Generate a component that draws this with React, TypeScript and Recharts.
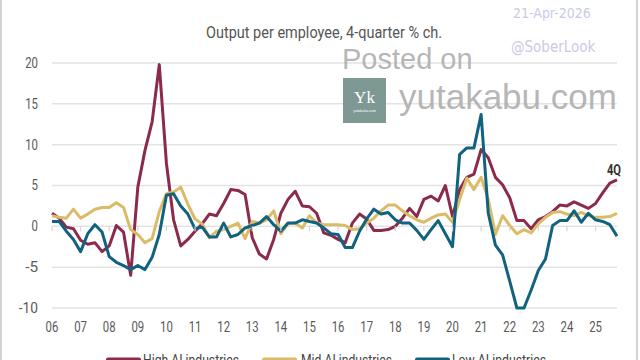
import React from 'react';
import { LineChart, Line, XAxis, YAxis, CartesianGrid, ReferenceDot, LabelList } from 'recharts';

// year labels on the x axis, one tick per Q1
const years = ['06', '07', '08', '09', '10', '11', '12', '13', '14', '15', '16', '17', '18', '19', '20', '21', '22', '23', '24', '25'];
const quarters = years.flatMap((y) => ['Q1', 'Q2', 'Q3', 'Q4'].map((q) => y + q));

const yTicks = [-10, -5, 0, 5, 10, 15, 20];

// 4-quarter % change, 2006Q1 .. 2025Q4
const high = [
  1.6, 1.0, -0.1, -0.3, -1.7, -2.2, -2.0, -3.1,
  -2.4, 0.1, -0.7, -6.0, 4.8, 9.3, 12.8, 19.8,
  7.7, 0.8, -2.4, -1.6, -0.6, 0.3, 1.5, 1.3,
  2.8, 4.5, 4.4, 3.9, -1.4, -3.4, -4.0, -1.6,
  1.6, 3.3, 4.3, 2.5, 2.4, 1.6, -0.8, -1.1,
  -1.6, -2.0, 0.4, 1.5, 0.9, -0.5, -0.5, -0.4,
  0.0, 1.0, 2.2, 1.2, 3.3, 3.7, 3.1, 5.0,
  1.2, 4.5, 6.0, 6.4, 9.4, 8.4, 6.0, 5.1,
  3.5, 0.7, 0.7, -0.3, 0.8, 1.2, 1.8, 2.6,
  2.5, 3.0, 2.6, 2.2, 2.8, 4.1, 5.3, 5.7,
];

const mid = [
  1.3, 1.1, 1.0, 2.1, 1.0, 1.5, 2.1, 2.3,
  2.3, 2.9, 2.3, -0.4, -1.0, -2.0, -1.5, 1.8,
  4.0, 4.2, 4.8, 2.7, 0.9, 0.3, -1.4, -0.6,
  -0.4, 0.0, 0.4, -1.5, 0.6, 0.4, 0.8, 1.9,
  -0.9, 0.3, 0.4, -0.2, 1.3, 0.4, 0.2, 0.2,
  0.2, 0.1, -0.4, -0.3, 0.4, 1.0, 1.9, 2.6,
  2.6, 1.9, 1.3, 0.8, 0.5, 1.0, 1.4, 1.5,
  0.5, 3.3, 5.9, 4.5, 6.0, 3.3, -1.0, 1.3,
  0.1, -0.9, -0.4, -0.8, 0.3, 1.1, 1.7, 1.8,
  1.5, 1.3, 1.7, 1.3, 1.1, 1.1, 1.2, 1.6,
];

const low = [
  0.6, 0.6, -0.6, -1.6, -3.1, -0.9, 0.2, -0.7,
  -3.7, -4.4, -4.8, -5.3, -4.8, -5.3, -3.8, -1.0,
  3.8, 4.0, 2.5, 1.5, -0.3, -0.1, -1.3, -1.3,
  0.4, -1.3, -1.0, -0.2, 0.1, 0.4, 1.2, 0.2,
  -0.6, 0.4, 0.4, 0.8, 0.6, 0.4, -0.2, -0.9,
  -1.0, -2.6, -2.6, -0.6, 0.9, 2.1, 1.5, 1.7,
  0.8, 0.4, 0.4, -0.5, -1.6, -0.4, 0.7, -0.9,
  -2.5, 8.8, 9.6, 9.6, 13.7, 1.6, -2.3, -3.5,
  -6.7, -10.0, -10.0, -7.8, -5.4, -4.0, 0.1, 0.7,
  0.7, 1.9, 0.5, 1.6, 0.8, 0.6, 0.2, -1.2,
];

const series = [
  { key: 'high', name: 'High AI industries', color: '#8c2a4b' },
  { key: 'mid', name: 'Mid AI industries', color: '#dbbb68' },
  { key: 'low', name: 'Low AI industries', color: '#11627f' },
];

const rows = quarters.map((q, i) => ({ q, high: high[i], mid: mid[i], low: low[i] }));

const ROBOTO = 'Roboto, sans-serif';
const COND = "'DejaVu Sans Condensed', sans-serif";
const SANS = "'Liberation Sans', Arial, sans-serif";

// Roboto squeezed a bit to look like the condensed face of the original
const AxisTick = (p: any) => {
  const label = p.tickFormatter ? p.tickFormatter(p.payload.value) : String(p.payload.value);
  return (
    <text
      x={p.x}
      y={p.y}
      dy={p.orientation === 'bottom' ? '0.71em' : '0.355em'}
      textAnchor={p.textAnchor}
      fontFamily={ROBOTO}
      fontSize={14}
      fill="#5a5a5a"
      textLength={label.length * 6.4}
      lengthAdjust="spacingAndGlyphs"
    >
      {label}
    </text>
  );
};

const zeroTick = (p: any) => (
  <line x1={p.cx} y1={p.cy} x2={p.cx} y2={p.cy + 5} stroke="#d6d6d6" strokeWidth={1.2} />
);

const lastLabel = (p: any) =>
  p.index === high.length - 1 ? (
    <text x={p.x - 3} y={p.y - 5} textAnchor="middle" fontFamily={ROBOTO} fontSize={14} fontWeight="bold" fill="#333"
      textLength={14} lengthAdjust="spacingAndGlyphs">
      4Q
    </text>
  ) : null;

const legendPos = [
  { sx: 106, tx: 143, w: 96 },
  { sx: 262, tx: 301, w: 91 },
  { sx: 415, tx: 452, w: 94 },
];

export default function App() {
  return (
    <div style={{ position: 'absolute', left: 0, top: 0, width: 640, height: 360, overflow: 'hidden', background: '#fff' }}>
      <div style={{ position: 'absolute', left: 0, top: 0, width: 1.5, height: 360, background: '#d2d2d2' }} />
      <div style={{ position: 'absolute', left: 636, top: 0, width: 1.5, height: 360, background: '#d2d2d2' }} />

      <LineChart width={640} height={360} data={rows} margin={{ top: 63, right: 23, bottom: 22, left: 0 }}>
        <CartesianGrid vertical={false} stroke="#e3e3e3" strokeWidth={1.5} />
        <XAxis
          dataKey="q"
          interval={3}
          tickFormatter={(v: string) => v.slice(0, 2)}
          axisLine={false}
          tickLine={false}
          tickSize={0}
          tickMargin={14}
          height={30}
          tick={<AxisTick />}
        />
        <YAxis
          domain={[-10, 20]}
          ticks={yTicks}
          width={52}
          axisLine={false}
          tickLine={false}
          tickSize={0}
          tickMargin={14}
          tick={<AxisTick />}
        />
        {years.map((y) => (
          <ReferenceDot key={y} x={y + 'Q1'} y={0} shape={zeroTick} />
        ))}
        {series.map((s) => (
          <Line
            key={s.key}
            dataKey={s.key}
            name={s.name}
            type="linear"
            stroke={s.color}
            strokeWidth={3}
            strokeLinejoin="round"
            dot={false}
            isAnimationActive={false}
          >
            {s.key === 'high' ? <LabelList dataKey="high" content={lastLabel} /> : null}
          </Line>
        ))}
      </LineChart>

      <svg width={640} height={360} style={{ position: 'absolute', left: 0, top: 0, pointerEvents: 'none' }}>
        <text x={206} y={38} fontFamily={ROBOTO} fontSize={17} fill="#555" textLength={236} lengthAdjust="spacingAndGlyphs">
          Output per employee, 4-quarter % ch.
        </text>
        <text x={513} y={18} fontFamily={COND} fontSize={14} fill="#c9cbe6">21-Apr-2026</text>
        <text x={511} y={52} fontFamily={COND} fontSize={15} fill="#c9cbe6">@SoberLook</text>

        <text x={342} y={69} fontFamily={SANS} fontSize={29} fill="#a9a9a9" fillOpacity={0.85}>Posted on</text>
        <rect x={343} y={78} width={43} height={45} fill="#7e9994" />
        <text x={364.5} y={103} textAnchor="middle" fontFamily="'Liberation Serif', serif" fontSize={17} fill="#fff">Yk</text>
        <text x={364.5} y={112} textAnchor="middle" fontFamily="'Liberation Serif', serif" fontSize={4} fill="#fff">yutakabu.com</text>
        <text x={399} y={109} fontFamily={SANS} fontSize={35} fill="#a9a9a9" fillOpacity={0.85}>yutakabu.com</text>

        {series.map((s, i) => {
          const lp = legendPos[i];
          return (
            <g key={s.key}>
              <rect x={lp.sx} y={357.5} width={35} height={5} rx={2} fill={s.color} />
              <text x={lp.tx} y={364.5} fontFamily={ROBOTO} fontSize={14} fill="#444" textLength={lp.w} lengthAdjust="spacingAndGlyphs">
                {s.name}
              </text>
            </g>
          );
        })}
      </svg>
    </div>
  );
}
